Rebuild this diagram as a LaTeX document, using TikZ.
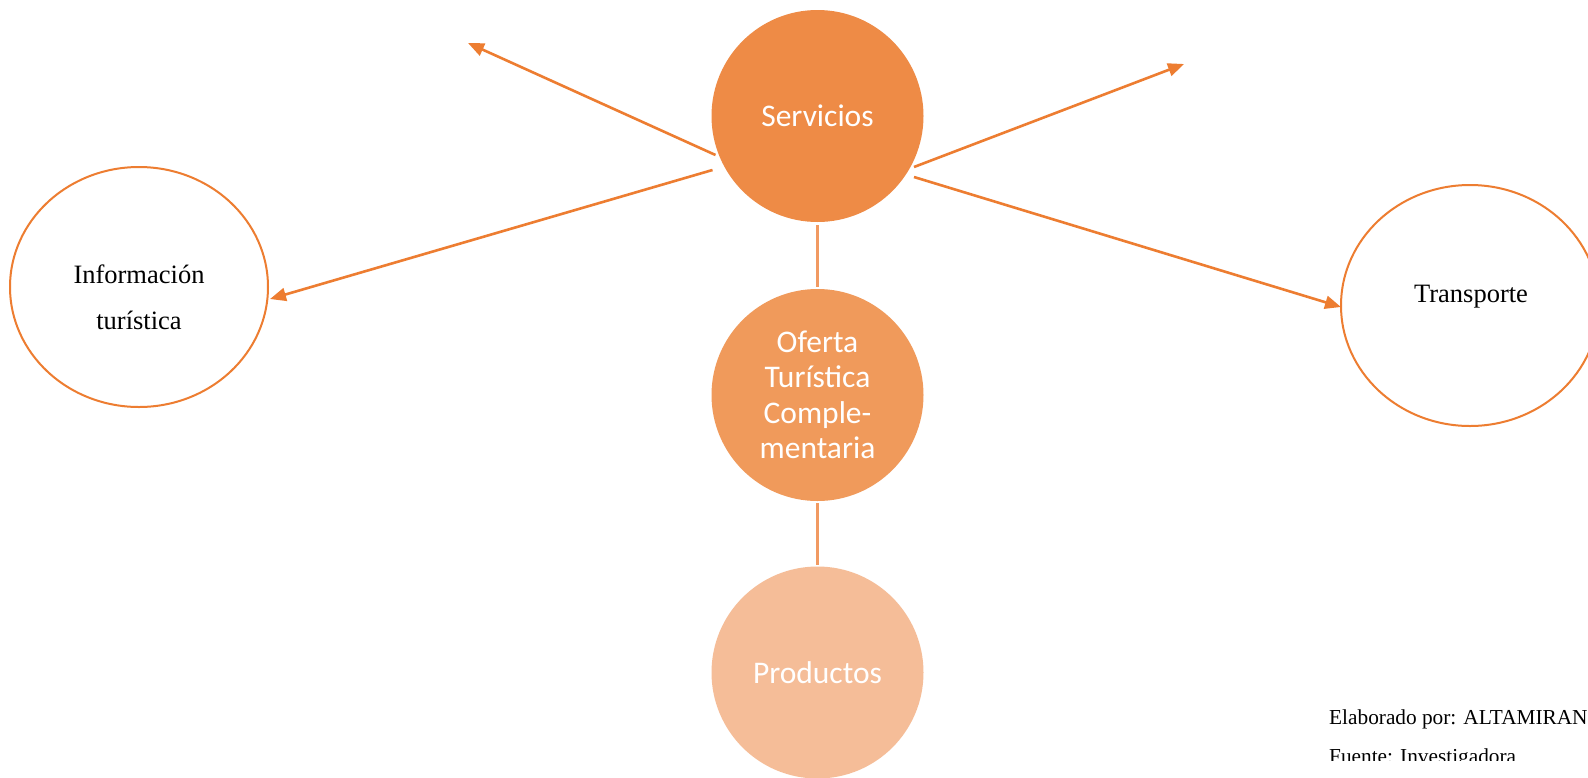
\documentclass[tikz,border=0pt]{standalone}
\usepackage{fontspec}
\setmainfont{Liberation Serif}
\newfontfamily\calib{Carlito}
\usetikzlibrary{arrows.meta,shapes.geometric}
\definecolor{arrowor}{HTML}{ED7D31}
\definecolor{servfill}{HTML}{EE8B46}
\definecolor{ofertafill}{HTML}{F09A5B}
\definecolor{prodfill}{HTML}{F5BD98}
\definecolor{linkor}{HTML}{F19A62}
\tikzset{
  bigcirc/.style={circle, minimum size=212pt, inner sep=0pt, text=white, align=center,
    font=\calib\fontsize{31.5}{35.5}\selectfont},
  outell/.style={ellipse, draw=arrowor, line width=2pt, inner sep=0pt},
  elltext/.style={align=center, inner sep=0pt, font=\fontsize{26.5}{46}\selectfont},
  arr/.style={draw=arrowor, line width=2.6pt, -{Triangle[length=16pt,width=13pt]}},
  link/.style={draw=linkor, line width=2.6pt},
  note/.style={anchor=base west, inner sep=0pt, font=\fontsize{21.3}{24}\selectfont}
}
\begin{document}
\begin{tikzpicture}[x=1pt,y=-1pt]
\useasboundingbox (0,0) rectangle (1588,777);
\clip (0,0) rectangle (1588,777);
\fill[white] (0,0) rectangle (1588,777);
\node[bigcirc, fill=servfill] (serv) at (817.5,116) {Servicios};
\node[bigcirc, fill=ofertafill] (ofer) at (817.5,395) {Oferta\\Turística\\Comple-\\mentaria};
\node[bigcirc, fill=prodfill] (prod) at (817.5,672.5) {Productos};
\node[outell, minimum width=258pt, minimum height=240pt] (info) at (139,287) {};
\node[elltext] (infotext) at (139,297.5) {Información\\turística};
\node[outell, minimum width=258pt, minimum height=241pt] (trans) at (1470,305.5) {};
\node[elltext, anchor=base] (transtext) at (1471,302) {Transporte};
\coordinate (tl) at (468,43);
\coordinate (tr) at (1184,64);
\coordinate (il) at (270,299);
\coordinate (tt) at (1341,307);
\coordinate (s1) at (715.5,155);
\coordinate (s2) at (712.5,170);
\coordinate (s3) at (914,167);
\coordinate (s4) at (914,177);
\coordinate (o1) at (817.5,225);
\coordinate (o2) at (817.5,287);
\coordinate (o3) at (817.5,503);
\coordinate (o4) at (817.5,565);
\draw[arr] (s1) -- (tl);
\draw[arr] (s2) -- (il);
\draw[arr] (s3) -- (tr);
\draw[arr] (s4) -- (tt);
\draw[link] (o1) -- (o2);
\draw[link] (o3) -- (o4);
\node[note] (elab) at (1329,724) {Elaborado por: ALTAMIRAN};
\begin{scope}
\clip (1200,700) rectangle (1588,760);
\node[note] (fuen) at (1329,763) {Fuente: Investigadora};
\end{scope}
\end{tikzpicture}
\end{document}
